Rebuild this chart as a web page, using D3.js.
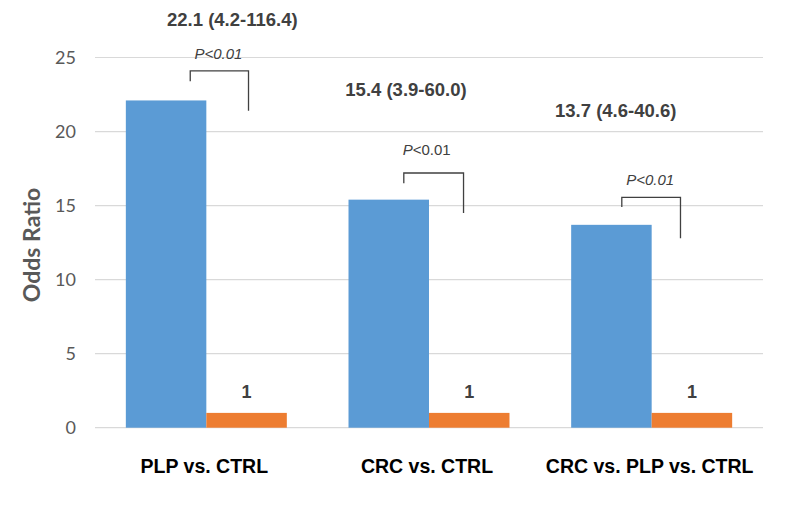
<!DOCTYPE html>
<html>
<head>
<meta charset="utf-8">
<script src="https://cdn.jsdelivr.net/npm/d3@7"></script>
<style>
  html, body { margin: 0; padding: 0; background: #ffffff; }
  svg { display: block; }
</style>
</head>
<body>
<svg id="chart" width="800" height="519"></svg>
<script>
// ---- data ----
const categories = ["PLP vs. CTRL", "CRC vs. CTRL", "CRC vs. PLP vs. CTRL"];
const seriesNames = ["Case", "Control"];
const caseValues = [22.1, 15.4, 13.7];
const controlValues = [1, 1, 1];
const ciLabels = ["22.1 (4.2-116.4)", "15.4 (3.9-60.0)", "13.7 (4.6-40.6)"];
const controlLabels = ["1", "1", "1"];
const pLabels = ["P<0.01", "P<0.01", "P<0.01"];
const pItalicAll = [true, false, true];
// bracket levels (odds-ratio units)
const bracketTop = [24.1, 17.2, 15.55];
const bracketLeftEnd = [23.4, 16.5, 14.9];
const bracketRightEnd = [21.4, 14.5, 12.8];
const ciLabelLevel = [27.1, 22.4, 21.0];
const pLabelLevel = [24.9, 18.4, 16.4];
const yTicks = [0, 5, 10, 15, 20, 25];

// ---- layout ----
const svg = d3.select("#chart");
const margin = { left: 95, right: 37, top: 57.5, bottom: 91.3 };
const W = 800, H = 519;
const x0 = margin.left, x1 = W - margin.right;
const yBottom = H - margin.bottom, yTop = margin.top;

const x = d3.scaleBand().domain(categories).range([x0, x1])
  .paddingInner(0.277).paddingOuter(0.1385);
const xs = d3.scaleBand().domain(seriesNames).range([0, x.bandwidth()]);
const y = d3.scaleLinear().domain([0, 25]).range([yBottom, yTop]);
const colors = { Case: "#5b9bd5", Control: "#ed7d31" };

// gridlines
svg.append("g").selectAll("line").data(yTicks).join("line")
  .attr("x1", x0).attr("x2", x1)
  .attr("y1", d => y(d)).attr("y2", d => y(d))
  .attr("stroke", "#d9d9d9").attr("stroke-width", 1.2);

// y axis labels
const yAxis = d3.axisLeft(y).tickValues(yTicks).tickSize(0).tickPadding(19);
const gy = svg.append("g").attr("transform", `translate(${x0},0)`).call(yAxis);
gy.select(".domain").remove();
gy.selectAll("text").attr("font-family", "Lato, 'Open Sans', sans-serif")
  .attr("font-size", 18).attr("fill", "#595959");

// y title
svg.append("text")
  .attr("transform", `translate(40,245) rotate(-90)`)
  .attr("text-anchor", "middle")
  .attr("font-family", "Lato, 'Open Sans', sans-serif")
  .attr("font-weight", "bold").attr("font-size", 23).attr("fill", "#595959")
  .text("Odds Ratio");

// bars
const rows = categories.map((c, i) => ({ cat: c, Case: caseValues[i], Control: controlValues[i] }));
const groups = svg.append("g").selectAll("g").data(rows).join("g")
  .attr("transform", d => `translate(${x(d.cat)},0)`);
groups.selectAll("rect").data(d => seriesNames.map(s => ({ s, v: d[s] }))).join("rect")
  .attr("x", d => xs(d.s)).attr("width", xs.bandwidth())
  .attr("y", d => y(d.v)).attr("height", d => y(0) - y(d.v))
  .attr("fill", d => colors[d.s]);

// control labels
svg.append("g").selectAll("text").data(categories).join("text")
  .attr("x", d => x(d) + xs("Control") + xs.bandwidth() / 2)
  .attr("y", (d, i) => y(controlValues[i]) - 15)
  .attr("text-anchor", "middle")
  .attr("font-family", "'Liberation Sans', Arial, sans-serif")
  .attr("font-weight", "bold").attr("font-size", 18).attr("fill", "#404040")
  .text((d, i) => controlLabels[i]);

// CI labels
const ciShift = [26, -23, -36];
svg.append("g").selectAll("text").data(categories).join("text")
  .attr("x", (d, i) => x(d) + x.bandwidth() / 2 + ciShift[i])
  .attr("y", (d, i) => y(ciLabelLevel[i]))
  .attr("text-anchor", "middle")
  .attr("font-family", "'Liberation Sans', Arial, sans-serif")
  .attr("font-weight", "bold").attr("font-size", 18.5).attr("fill", "#404040")
  .text((d, i) => ciLabels[i]);

// brackets
const bw = xs.bandwidth();
const bracketLFrac = [0.80, 0.687, 0.629];
const bracketRFrac = [1.524, 1.429, 1.358];
const bracketL = i => x(categories[i]) + bw * bracketLFrac[i];
const bracketR = i => x(categories[i]) + bw * bracketRFrac[i];
svg.append("g").selectAll("path").data(categories).join("path")
  .attr("d", (d, i) => `M${bracketL(i)},${y(bracketLeftEnd[i])}V${y(bracketTop[i])}H${bracketR(i)}V${y(bracketRightEnd[i])}`)
  .attr("fill", "none").attr("stroke", "#404040").attr("stroke-width", 1.3);

// p labels
const pShift = [-1, -7, -1];
const pText = svg.append("g").selectAll("text").data(categories).join("text")
  .attr("x", (d, i) => (bracketL(i) + bracketR(i)) / 2 + pShift[i])
  .attr("y", (d, i) => y(pLabelLevel[i]))
  .attr("text-anchor", "middle")
  .attr("font-family", "'Liberation Sans', Arial, sans-serif")
  .attr("font-size", 15).attr("fill", "#404040");
pText.each(function(d, i) {
  const t = d3.select(this);
  const label = pLabels[i];
  t.append("tspan").attr("font-style", "italic").text(label[0]);
  t.append("tspan").attr("font-style", pItalicAll[i] ? "italic" : "normal").text(label.slice(1));
});

// x labels
svg.append("g").selectAll("text").data(categories).join("text")
  .attr("x", d => x(d) + x.bandwidth() / 2 - 2)
  .attr("y", 473)
  .attr("text-anchor", "middle")
  .attr("font-family", "'Liberation Sans', Arial, sans-serif")
  .attr("font-weight", "bold").attr("font-size", 19.5).attr("fill", "#000000")
  .text(d => d);
</script>
</body>
</html>
